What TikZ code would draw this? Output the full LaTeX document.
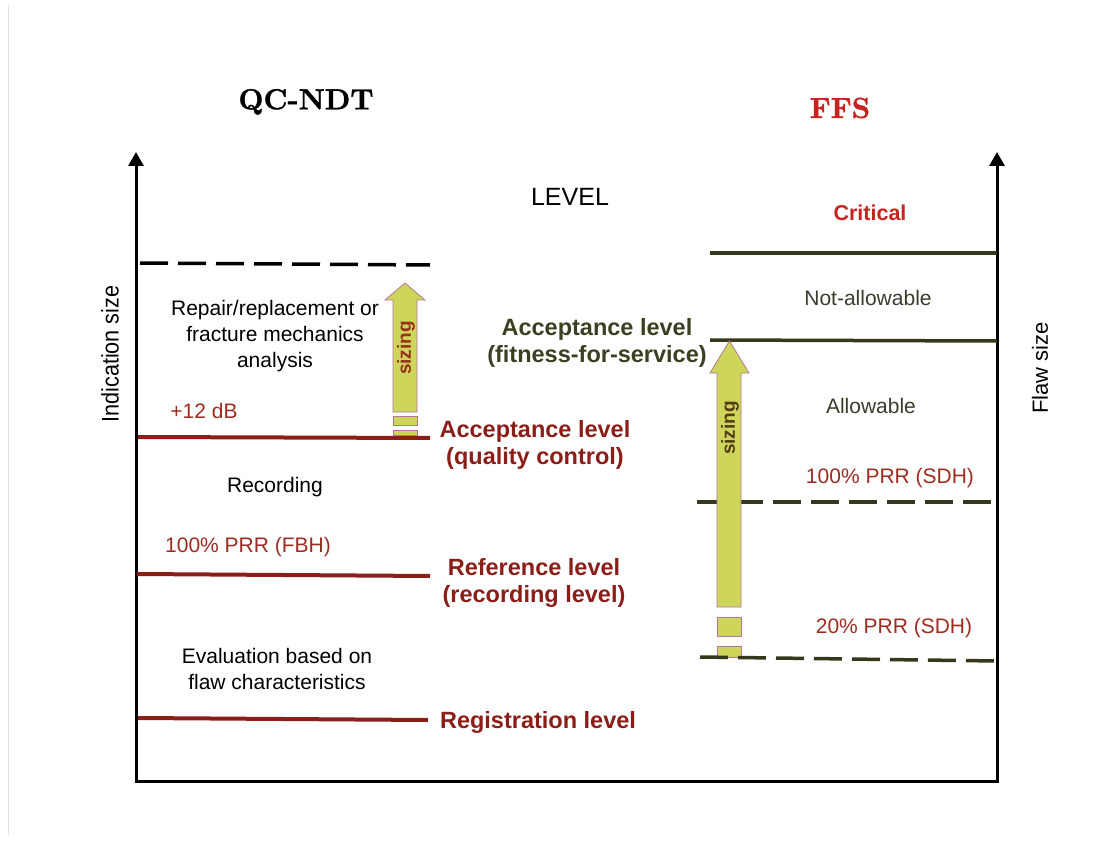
\documentclass[tikz,border=0pt]{standalone}
\usepackage{fontspec}
\setsansfont{Liberation Sans}
\newfontfamily\narrowsf[FakeStretch=0.9]{Liberation Sans}
\newfontfamily\titlefont[FakeBold=1.2]{lmroman10-bold.otf}
\usetikzlibrary{arrows.meta}
\definecolor{lvred}{RGB}{139,30,25}
\definecolor{txred}{RGB}{155,45,35}
\definecolor{brred}{RGB}{200,35,30}
\definecolor{olive}{RGB}{55,55,30}
\definecolor{olivetx}{RGB}{60,64,35}
\definecolor{graytx}{RGB}{60,60,45}
\definecolor{arrfill}{RGB}{205,214,90}
\definecolor{arrdraw}{RGB}{180,120,150}
\definecolor{szleft}{RGB}{150,50,25}
\definecolor{szright}{RGB}{85,60,20}
\begin{document}
\begin{tikzpicture}[x=1pt,y=-1pt,
  every node/.style={inner sep=0pt, align=center},
  txt/.style={font=\sffamily\fontsize{21}{26}\selectfont},
  btxt/.style={font=\sffamily\bfseries\fontsize{23.5}{27}\selectfont},
  title/.style={font=\titlefont\fontsize{29}{33}\selectfont},
  axis/.style={line width=3pt, {Triangle[length=14pt,width=15pt]}-{Triangle[length=14pt,width=15pt]}},
  redline/.style={lvred, line width=4pt},
  oliveline/.style={olive, line width=3.5pt},
  dashline/.style={line width=3.5pt, dash pattern=on 28pt off 10pt},
  szarrow/.style={fill=arrfill, draw=arrdraw, line width=0.8pt},
  sztxt/.style={font=\sffamily\bfseries\fontsize{19}{22}\selectfont, rotate=90}
]
\useasboundingbox (0,0) rectangle (1120,845);
\fill[white] (0,0) rectangle (1120,845);
\draw[gray!25, line width=1pt] (8,5) -- (8,835);

% axes
\coordinate (lt) at (136,152);
\coordinate (ol) at (136,781);
\coordinate (or) at (997,781);
\coordinate (rt) at (997,152);
\draw[axis] (lt) -- (ol) -- (or) -- (rt);

% left levels
\coordinate (d1a) at (140,263); \coordinate (d1b) at (430,265);
\draw[dashline] (d1a) -- (d1b);
\coordinate (r1a) at (138,437); \coordinate (r1b) at (430,438);
\coordinate (r2a) at (137,574); \coordinate (r2b) at (430,576);
\coordinate (r3a) at (138,718); \coordinate (r3b) at (428,720);
\draw[redline] (r1a) -- (r1b);
\draw[redline] (r2a) -- (r2b);
\draw[redline] (r3a) -- (r3b);

% right levels
\coordinate (o1a) at (710,253); \coordinate (o1b) at (997,253);
\coordinate (o2a) at (710,340); \coordinate (o2b) at (997,341);
\draw[oliveline] (o1a) -- (o1b);
\draw[oliveline] (o2a) -- (o2b);
\coordinate (d2a) at (697,502); \coordinate (d2b) at (995,502);
\coordinate (d3a) at (700,657); \coordinate (d3b) at (997,661);
\draw[dashline, olive] (d2a) -- (d2b);

% left sizing arrow
\draw[szarrow] (393,412) -- (393,300) -- (385,300) -- (405,283) -- (425,300) -- (417,300) -- (417,412) -- cycle;
\draw[szarrow] (393,416) rectangle (417,425);
\draw[szarrow] (393,430) rectangle (417,435);
\node[sztxt, text=szleft] (szl) at (406,348) {sizing};

% right sizing arrow
\draw[szarrow] (717,607) -- (717,373) -- (710,373) -- (729.5,341) -- (749,373) -- (741,373) -- (741,607) -- cycle;
\draw[szarrow] (717,617) rectangle (741,636);
\draw[szarrow] (717,646) rectangle (741,657);
\draw[dashline, olive] (d3a) -- (d3b);
\node[sztxt, text=szright] (szr) at (730,428) {sizing};

% titles
\node[title] (qc) at (306,102) {QC-NDT};
\node[title, text=brred] (ffs) at (840,108) {FFS};
\node[font=\sffamily\fontsize{25}{28}\selectfont] (lev) at (570,197) {LEVEL};
\node[font=\narrowsf\fontsize{24}{27}\selectfont, rotate=90] (ind) at (110,354) {Indication size};
\node[font=\sffamily\fontsize{22}{26}\selectfont, rotate=90] (flaw) at (1040,368) {Flaw size};

% left texts
\node[txt] (rep) at (275,336) {Repair/replacement or\\fracture mechanics\\analysis};
\node[txt, text=txred] (db) at (204,411) {+12 dB};
\node[txt] (rec) at (275,487) {Recording};
\node[txt, text=txred] (fbh) at (248,547) {100\% PRR (FBH)};
\node[txt] (eva) at (277,669) {Evaluation based on\\flaw characteristics};
\node[btxt, text=lvred] (aqc) at (535,445) {Acceptance level\\(quality control)};
\node[btxt, text=lvred] (ref) at (534,583) {Reference level\\(recording level)};
\node[btxt, text=lvred] (reg) at (538,722) {Registration level};

% right texts
\node[font=\sffamily\bfseries\fontsize{21.5}{26}\selectfont, text=brred] (crit) at (870,213) {Critical};
\node[txt, text=graytx] (na) at (868,298) {Not-allowable};
\node[btxt, text=olivetx] (affs) at (597,343) {Acceptance level\\(fitness-for-service)};
\node[txt, text=graytx] (al) at (871,406) {Allowable};
\node[txt, text=txred] (sdh1) at (890,478) {100\% PRR (SDH)};
\node[txt, text=txred] (sdh2) at (894,628) {20\% PRR (SDH)};
\end{tikzpicture}
\end{document}
